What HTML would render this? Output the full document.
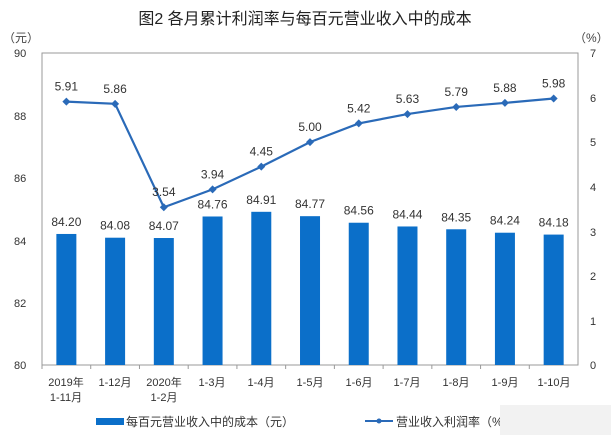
<!DOCTYPE html><html><head><meta charset="utf-8"><style>body{margin:0;background:#fff}svg{display:block}text{font-family:"Liberation Sans","Noto Sans CJK SC",sans-serif}</style></head><body>
<svg width="611" height="440" xmlns="http://www.w3.org/2000/svg">
<text x="305" y="24" font-size="16" text-anchor="middle" fill="#222">图2  各月累计利润率与每百元营业收入中的成本</text>
<text x="3" y="42" font-size="12" fill="#444">（元）</text>
<text x="574" y="42" font-size="12" fill="#444">（%）</text>
<rect x="42" y="53" width="536" height="312" fill="none" stroke="#999" stroke-width="1"/>
<g font-size="11" fill="#333">
<text x="14" y="57">90</text><text x="14" y="120">88</text><text x="14" y="182">86</text><text x="14" y="245">84</text><text x="14" y="307">82</text><text x="14" y="369">80</text>
<text x="590" y="57">7</text><text x="590" y="102">6</text><text x="590" y="146">5</text><text x="590" y="191">4</text><text x="590" y="236">3</text><text x="590" y="280">2</text><text x="590" y="325">1</text><text x="590" y="369">0</text>
</g>
<g id="bars" fill="#0b6fc9"></g>
<g id="ticks" stroke="#999"></g>
<polyline id="ln" fill="none" stroke="#2a6ab8" stroke-width="2.2"/>
<g id="pts" fill="#2a6ab8"></g>
<g id="lbl" font-size="12" fill="#333" text-anchor="middle"></g>
<g font-size="11" fill="#333" text-anchor="middle">
<text x="66" y="386">2019年</text><text x="66" y="401">1-11月</text>
<text x="115" y="386">1-12月</text>
<text x="164" y="386">2020年</text><text x="164" y="401">1-2月</text>
<text x="212" y="386">1-3月</text><text x="261" y="386">1-4月</text><text x="310" y="386">1-5月</text><text x="359" y="386">1-6月</text><text x="407" y="386">1-7月</text><text x="456" y="386">1-8月</text><text x="505" y="386">1-9月</text><text x="554" y="386">1-10月</text>
</g>
<rect x="96" y="418" width="28" height="7" fill="#0b6fc9"/>
<text x="126" y="426" font-size="12" fill="#333">每百元营业收入中的成本（元）</text>
<line x1="365" y1="421" x2="393" y2="421" stroke="#2a6ab8" stroke-width="2"/><circle cx="379" cy="421" r="2.5" fill="#2a6ab8"/>
<text x="396" y="426" font-size="12" fill="#333">营业收入利润率（%）</text>
<rect x="500" y="405" width="111" height="30" fill="#f2f2f2"/>
<script>
var b=[84.20,84.08,84.07,84.76,84.91,84.77,84.56,84.44,84.35,84.24,84.18],l=[5.91,5.86,3.54,3.94,4.45,5.00,5.42,5.63,5.79,5.88,5.98];
var ns="http://www.w3.org/2000/svg",pts=[];
function el(t,a,p,tx){var e=document.createElementNS(ns,t);for(var k in a)e.setAttribute(k,a[k]);if(tx)e.textContent=tx;document.getElementById(p).appendChild(e);}
for(var i=0;i<11;i++){var c=42+48.73*(i+.5),y=365-(b[i]-80)*31.2;
el("rect",{x:c-10,y:y,width:20,height:365-y},"bars");
el("line",{x1:42+48.73*i,y1:365,x2:42+48.73*i,y2:369},"ticks");
el("text",{x:c,y:y-8},"lbl",b[i].toFixed(2));
var ly=365-l[i]*44.57;pts.push(c+","+ly);
el("path",{d:"M"+(c-4)+" "+ly+"L"+c+" "+(ly-4)+"L"+(c+4)+" "+ly+"L"+c+" "+(ly+4)+"Z"},"pts");
el("text",{x:c,y:ly-11},"lbl",l[i].toFixed(2));}
document.getElementById("ln").setAttribute("points",pts.join(" "));
</script>
</svg></body></html>
